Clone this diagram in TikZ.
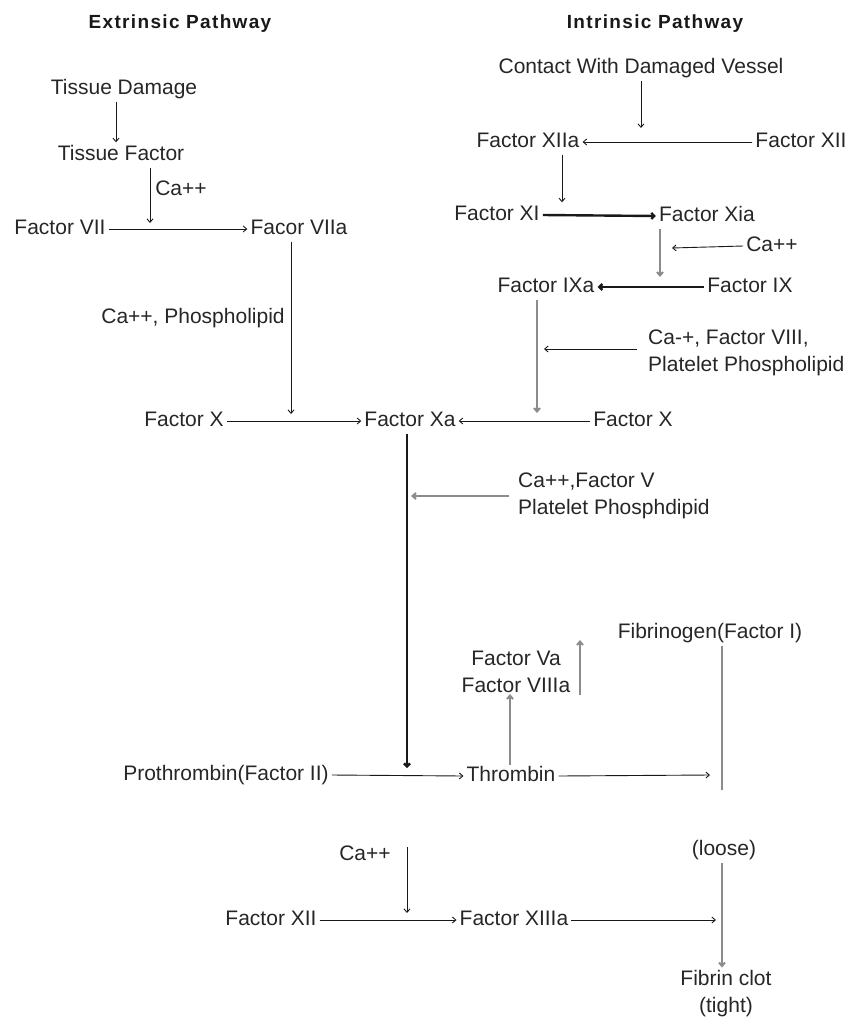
\documentclass[tikz,border=0pt]{standalone}
\usepackage{fontspec}
\setmainfont{Liberation Sans}
\newfontfamily\ttlfont[LetterSpace=7]{Liberation Sans}
\usetikzlibrary{arrows.meta}
\begin{document}
\begin{tikzpicture}[x=1pt,y=-1pt,
  lbl/.style={inner sep=3pt, font=\fontsize{21}{27}\selectfont, text=black!85, text height=15pt, text depth=4pt},
  two/.style={lbl, align=left, text height=, text depth=},
  ttl/.style={inner sep=2pt, font=\ttlfont\fontsize{19}{22}\selectfont\bfseries, text=black!90},
  arr/.style={draw=black!90, line width=0.9pt, -{Straight Barb[length=3.5pt,width=6pt]}},
  thick arr/.style={arr, line width=2.4pt, -{Straight Barb[length=3pt,width=6pt]}},
  gray arr/.style={arr, draw=black!45, line width=2pt},
  gray line/.style={draw=black!45, line width=2.2pt}
]
\useasboundingbox (0,0) rectangle (858,1021);

% titles
\node[ttl] (ext) at (180,24) {Extrinsic Pathway};
\node[ttl] (int) at (655,24) {Intrinsic Pathway};

% extrinsic
\node[lbl] (td) at (124,89) {Tissue Damage};
\node[lbl] (tf) at (121,155) {Tissue Factor};
\node[lbl] (ca1) at (181,190) {Ca++};
\node[lbl] (f7) at (60,229) {Factor VII};
\node[lbl] (f7a) at (299,229) {Facor VIIa};
\node[lbl] (caph) at (193,318) {Ca++, Phospholipid};
\node[lbl] (fxL) at (184,421) {Factor X};
\node[lbl] (fxa) at (410,421) {Factor Xa};

% intrinsic
\node[lbl] (cdv) at (641,68) {Contact With Damaged Vessel};
\node[lbl] (f12a) at (528,142) {Factor XIIa};
\node[lbl] (f12) at (801,142) {Factor XII};
\node[lbl] (f11) at (497,215) {Factor XI};
\node[lbl] (f11a) at (707,216) {Factor Xia};
\node[lbl] (ca2) at (772,246) {Ca++};
\node[lbl] (f9a) at (546,287) {Factor IXa};
\node[lbl] (f9) at (750,287) {Factor IX};
\node[two, anchor=west] (ca8) at (645,353) {Ca-+, Factor VIII,\\Platelet Phospholipid};
\node[lbl] (fxR) at (633,421) {Factor X};

% common
\node[two, anchor=west] (ca5) at (515,496) {Ca++,Factor V\\Platelet Phosphdipid};
\node[lbl] (fib) at (710,633) {Fibrinogen(Factor I)};
\node[two, align=center] (f5a) at (516,672) {Factor Va\\Factor VIIIa};
\node[lbl] (pro) at (226,775) {Prothrombin(Factor II)};
\node[lbl] (thr) at (511,776) {Thrombin};
\node[lbl] (loose) at (724,850) {(loose)};
\node[lbl] (ca3) at (365,855) {Ca++};
\node[lbl] (f13) at (271,920) {Factor XII};
\node[lbl] (f13a) at (514,920) {Factor XIIIa};
\node[two, align=center] (clot) at (726,994) {Fibrin clot\\(tight)};

% junction coordinates
\coordinate (j1) at (150,223);
\coordinate (j2) at (291,414);
\coordinate (j3) at (641,128);
\coordinate (j4) at (660,277);
\coordinate (j5) at (672,248);
\coordinate (j6) at (537,413);
\coordinate (j7) at (544,349);
\coordinate (j8) at (407,768);
\coordinate (j9) at (411,496);
\coordinate (j10) at (710,775);
\coordinate (j11) at (407,913);
\coordinate (j12) at (716,920);
\coordinate (u1) at (580,695);
\coordinate (u2) at (580,640);

% extrinsic connectors
\draw[arr] ([xshift=-8pt]td.south) -- ([xshift=-5pt]tf.north);
\draw[arr] (tf.south -| j1) -- (j1);
\draw[arr] (f7.east) -- (f7a.west);
\draw[arr] (f7a.south -| j2) -- (j2);
\draw[arr] (fxL.east) -- (fxa.west);

% intrinsic connectors
\draw[arr] (cdv.south -| j3) -- (j3);
\draw[arr] (f12.west) -- (f12a.east);
\draw[arr] ([xshift=34pt]f12a.south) -- ([xshift=34pt]f12a.south |- f11.north);
\draw[thick arr] (f11.east) -- (f11a.west);
\draw[gray arr] (f11a.south -| j4) -- (j4);
\draw[arr] (ca2.west) -- (j5);
\draw[thick arr] (f9.west) -- (f9a.east);
\draw[gray arr] (f9a.south -| j6) -- (j6);
\draw[arr] (ca8.west |- j7) ++(-8pt,0) -- (j7);
\draw[arr] (fxR.west) -- (fxa.east);

% common connectors
\draw[thick arr] (fxa.south -| j8) -- (j8);
\draw[gray arr] ([xshift=-6pt]ca5.west |- j9) -- (j9);
\draw[arr] (pro.east) -- (thr.west);
\draw[arr] (thr.east) -- (j10);
\draw[gray arr] ([yshift=-2pt]thr.north -| 510,0) -- ([yshift=2pt]f5a.south -| 510,0);
\draw[gray arr] (u1) -- (u2);
\draw[gray line] (fib.south -| 722,0) -- (722,790);
\draw[gray arr] (loose.south -| 722,0) -- (clot.north -| 722,0);
\draw[arr] (ca3.north -| j11) ++(0,-5pt) -- (j11);
\draw[arr] (f13.east) -- (f13a.west);
\draw[arr] (f13a.east) -- (j12);
\end{tikzpicture}
\end{document}
